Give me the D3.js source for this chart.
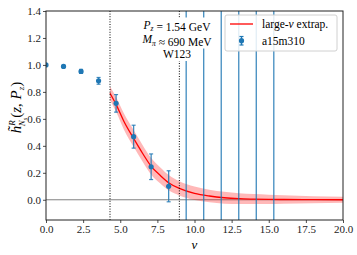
<!DOCTYPE html>
<html>
<head>
<meta charset="utf-8">
<script src="https://cdn.jsdelivr.net/npm/d3@7"></script>
<style>
  body { margin: 0; background: #fff; }
  svg { display: block; }
  text { font-family: "Liberation Serif", "DejaVu Serif", serif; }
</style>
</head>
<body>
<svg id="graph"></svg>
<script>
// lattice points
var nu = [0, 1.18, 2.36, 3.54, 4.72, 5.90, 7.08, 8.26, 9.44, 10.62, 11.80, 12.98, 14.16, 15.34];
var hval = [1.0, 0.989, 0.952, 0.882, 0.715, 0.468, 0.245, 0.10, -0.35, 1.9, -0.8, 2.6, -1.5, 3.2];
var herr = [0.003, 0.008, 0.015, 0.025, 0.065, 0.085, 0.095, 0.115, 1.8, 2.4, 2.9, 3.4, 4.0, 4.5];

// large-nu extrapolation curve and band
var fitNu = [4.31, 4.75, 5.25, 5.9, 6.5, 7.07, 7.7, 8.28, 8.98, 10, 11, 12, 13, 14, 15, 16, 18, 20];
var fitVal = [0.79, 0.70, 0.58, 0.455, 0.345, 0.25, 0.18, 0.125, 0.085, 0.048, 0.028, 0.015, 0.008, 0.005, 0.003, 0.002, 0.001, 0.0];
var fitErr = [0.05, 0.055, 0.06, 0.062, 0.062, 0.062, 0.06, 0.057, 0.053, 0.05, 0.047, 0.044, 0.04, 0.037, 0.034, 0.031, 0.026, 0.022];

var cutNu = [4.31, 8.98];
var xTicks = [0, 2.5, 5, 7.5, 10, 12.5, 15, 17.5, 20];
var yTicks = [0, 0.2, 0.4, 0.6, 0.8, 1.0, 1.2, 1.4];

var W = 357, H = 255;
var margin = {left: 46, top: 11, right: 14, bottom: 35};
var width = W - margin.left - margin.right,
    height = H - margin.top - margin.bottom;
var blue = "#1f77b4";

var x = d3.scaleLinear().domain([0, 20]).range([0, width]);
var y = d3.scaleLinear().domain([-0.15, 1.4]).range([height, 0]);

var svg = d3.select("#graph")
    .attr("width", W)
    .attr("height", H)
    .append("g")
    .attr("transform", "translate(" + margin.left + "," + margin.top + ")");

svg.append("clipPath").attr("id", "clip")
    .append("rect").attr("width", width).attr("height", height);
var plot = svg.append("g").attr("clip-path", "url(#clip)");

// zero line
plot.append("line")
    .attr("x1", 0).attr("x2", width)
    .attr("y1", y(0)).attr("y2", y(0))
    .attr("stroke", "#808080").attr("stroke-width", 1);

var fit = fitNu.map(function (d, i) {
    return {nu: d, v: fitVal[i], e: fitErr[i]};
});

plot.append("path")
    .datum(fit)
    .attr("fill", "#ff0000")
    .attr("fill-opacity", 0.28)
    .attr("d", d3.area()
        .curve(d3.curveMonotoneX)
        .x(function (d) { return x(d.nu); })
        .y0(function (d) { return y(d.v - d.e); })
        .y1(function (d) { return y(d.v + d.e); }));

plot.append("path")
    .datum(fit)
    .attr("fill", "none")
    .attr("stroke", "#ff0000")
    .attr("stroke-width", 1.3)
    .attr("d", d3.line()
        .curve(d3.curveMonotoneX)
        .x(function (d) { return x(d.nu); })
        .y(function (d) { return y(d.v); }));

// cut lines
plot.selectAll(".cut")
    .data(cutNu)
    .enter().append("line")
    .attr("x1", function (d) { return x(d); })
    .attr("x2", function (d) { return x(d); })
    .attr("y1", 0).attr("y2", height)
    .attr("stroke", "#000")
    .attr("stroke-width", 1)
    .attr("stroke-dasharray", "1,1.6");

// data
var pts = nu.map(function (d, i) {
    return {nu: d, v: hval[i], e: herr[i]};
});
var pt = plot.selectAll(".pt")
    .data(pts)
    .enter().append("g");
pt.append("line")
    .attr("x1", function (d) { return x(d.nu); })
    .attr("x2", function (d) { return x(d.nu); })
    .attr("y1", function (d) { return y(d.v - d.e); })
    .attr("y2", function (d) { return y(d.v + d.e); })
    .attr("stroke", blue).attr("stroke-width", 1.3).attr("stroke-opacity", 0.85);
[-1, 1].forEach(function (s) {
    pt.append("line")
        .attr("x1", function (d) { return x(d.nu) - 2; })
        .attr("x2", function (d) { return x(d.nu) + 2; })
        .attr("y1", function (d) { return y(d.v + s * d.e); })
        .attr("y2", function (d) { return y(d.v + s * d.e); })
        .attr("stroke", blue).attr("stroke-width", 1.2).attr("stroke-opacity", 0.85);
});
pt.append("circle")
    .attr("cx", function (d) { return x(d.nu); })
    .attr("cy", function (d) { return y(d.v); })
    .attr("r", 2.6)
    .attr("fill", blue);

// annotation
var notes = [
    {parts: [["P", "italic", 0], ["z", "italic", 1], [" = 1.54 GeV", "normal", 0]], y: 17.5},
    {parts: [["M", "italic", 0], ["π", "italic", 1], [" ≈ 690 MeV", "normal", 0]], y: 32},
    {parts: [["W123", "normal", 0]], y: 47}
];
notes.forEach(function (n) {
    var g = svg.append("g");
    var t = g.append("text")
        .attr("x", 131).attr("y", n.y)
        .attr("text-anchor", "middle")
        .attr("font-size", 11.5);
    n.parts.forEach(function (p) {
        t.append("tspan")
            .attr("font-style", p[1])
            .attr("font-size", p[2] ? 7.5 : 11.5)
            .attr("dy", p[2] ? 2.5 : 0)
            .text(p[0]);
        if (p[2]) t.append("tspan").attr("dy", -2.5).text("");
    });
    var bb = t.node().getBBox();
    g.insert("rect", "text")
        .attr("x", bb.x - 2).attr("y", bb.y - 1)
        .attr("width", bb.width + 4).attr("height", bb.height + 2)
        .attr("fill", "#fff");
});

// legend
var lg = svg.append("g").attr("transform", "translate(179,4)");
lg.append("rect")
    .attr("width", 112).attr("height", 36).attr("rx", 2)
    .attr("fill", "#fff").attr("fill-opacity", 0.85)
    .attr("stroke", "#d0d0d0").attr("stroke-width", 1);
lg.append("line")
    .attr("x1", 5).attr("x2", 28).attr("y1", 9).attr("y2", 9)
    .attr("stroke", "#ff0000").attr("stroke-width", 1.3);
var lt = lg.append("text").attr("x", 37).attr("y", 12.5).attr("font-size", 11.5);
lt.append("tspan").text("large-");
lt.append("tspan").attr("font-style", "italic").text("ν");
lt.append("tspan").text(" extrap.");
lg.append("line")
    .attr("x1", 16.5).attr("x2", 16.5).attr("y1", 21.5).attr("y2", 30)
    .attr("stroke", blue).attr("stroke-width", 1.3);
[21.5, 30].forEach(function (yy) {
    lg.append("line")
        .attr("x1", 14.5).attr("x2", 18.5).attr("y1", yy).attr("y2", yy)
        .attr("stroke", blue).attr("stroke-width", 1.2);
});
lg.append("circle").attr("cx", 16.5).attr("cy", 25.7).attr("r", 2.6).attr("fill", blue);
lg.append("text").attr("x", 37).attr("y", 29.5).attr("font-size", 11.5).text("a15m310");

// axes
var xAxis = svg.append("g")
    .attr("transform", "translate(0," + height + ")")
    .call(d3.axisBottom(x).tickValues(xTicks).tickSize(3).tickPadding(2)
        .tickFormat(d3.format(".1f")));
var yAxis = svg.append("g")
    .call(d3.axisLeft(y).tickValues(yTicks).tickSize(3).tickPadding(2)
        .tickFormat(d3.format(".1f")));
[xAxis, yAxis].forEach(function (a) {
    a.select(".domain").remove();
    a.attr("font-family", "Liberation Serif");
    a.selectAll("text")
        .attr("font-family", "Liberation Serif")
        .attr("font-size", 11)
        .attr("fill", "#222");
    a.selectAll("line").attr("stroke", "#222").attr("stroke-width", 0.8);
});

svg.append("rect")
    .attr("width", width).attr("height", height)
    .attr("fill", "none").attr("stroke", "#222").attr("stroke-width", 1);

// axis labels
svg.append("text")
    .attr("x", x(10)).attr("y", height + 29)
    .attr("text-anchor", "middle")
    .attr("font-size", 13).attr("font-style", "italic")
    .text("ν");

var yl = svg.append("text")
    .attr("transform", "translate(-25," + (height / 2 - 8) + ") rotate(-90)")
    .attr("text-anchor", "middle")
    .attr("font-size", 15);
yl.append("tspan").attr("font-style", "italic").text("h\u0303");
yl.append("tspan").attr("font-size", 9).attr("font-style", "italic").attr("dy", -6).text("R");
yl.append("tspan").attr("font-size", 9).attr("font-style", "italic").attr("dx", -6).attr("dy", 10).text("N");
yl.append("tspan").attr("font-size", 6.5).attr("font-style", "italic").attr("dy", 2).text("s");
yl.append("tspan").attr("dy", -6).text("(");
yl.append("tspan").attr("font-style", "italic").text("z");
yl.append("tspan").text(", ");
yl.append("tspan").attr("font-style", "italic").text("P");
yl.append("tspan").attr("font-size", 9).attr("font-style", "italic").attr("dy", 3).text("z");
yl.append("tspan").attr("dy", -3).text(")");
</script>
</body>
</html>
